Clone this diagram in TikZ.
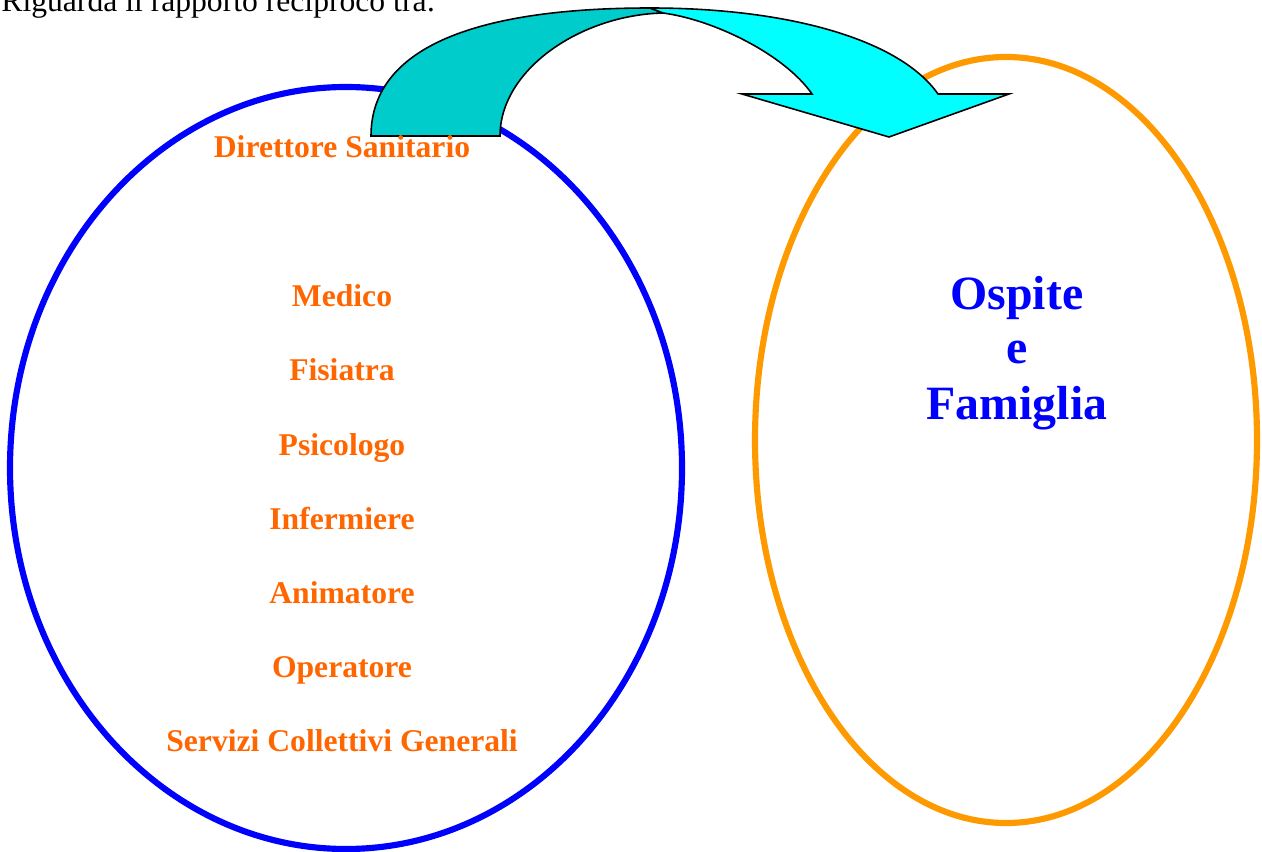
\documentclass[tikz,border=0pt]{standalone}
\usepackage{fontspec}
\setmainfont{Liberation Serif}
\definecolor{staff}{RGB}{255,102,0}
\definecolor{ring}{RGB}{255,153,0}
\definecolor{banddark}{RGB}{0,204,204}
\definecolor{bandlight}{RGB}{0,255,255}
\begin{document}
\begin{tikzpicture}[
        role/.style={text=staff,font=\fontsize{9}{11}\selectfont\bfseries,anchor=base},
        guest/.style={text=blue,font=\fontsize{13.6}{16}\selectfont\bfseries,anchor=base}]
        \useasboundingbox (0,0) rectangle (12.62,-8.52);
        \node[anchor=base west,font=\fontsize{9}{11}\selectfont] (intro) at (-0.11,-0.12) {Riguarda il rapporto reciproco tra:};
        \draw[color=blue,line width=1.75pt] (3.46,-4.68) ellipse (3.36 and 3.81);
        \draw[color=ring,line width=1.75pt] (10.06,-4.40) ellipse (2.51 and 3.83);
        \draw[color=black,fill=banddark,line width=0.45pt] (3.71,-1.36) .. controls (3.71,-0.50) and (4.70,-0.08) .. (6.50,-0.08) -- (6.63,-0.13) .. controls (5.80,-0.15) and (5.00,-0.70) .. (5.00,-1.36) -- cycle;
        \draw[color=black,fill=bandlight,line width=0.45pt] (6.50,-0.08) .. controls (7.90,-0.08) and (9.00,-0.40) .. (9.38,-0.94) -- (10.09,-0.94) -- (8.89,-1.37) -- (7.42,-0.94) -- (8.12,-0.94) .. controls (7.85,-0.55) and (7.15,-0.20) .. (6.63,-0.13) -- cycle;
        \node[role] (direttore) at (3.42,-1.58) {Direttore Sanitario};
        \node[role] (medico) at (3.42,-3.07) {Medico};
        \node[role] (fisiatra) at (3.42,-3.81) {Fisiatra};
        \node[role] (psicologo) at (3.42,-4.55) {Psicologo};
        \node[role] (infermiere) at (3.42,-5.29) {Infermiere};
        \node[role] (animatore) at (3.42,-6.03) {Animatore};
        \node[role] (operatore) at (3.42,-6.77) {Operatore};
        \node[role] (servizi) at (3.42,-7.51) {Servizi Collettivi Generali};
        \node[guest] (ospite) at (10.17,-3.09) {Ospite};
        \node[guest] (e) at (10.17,-3.63) {e};
        \node[guest] (famiglia) at (10.17,-4.19) {Famiglia};
    \end{tikzpicture}
\end{document}
